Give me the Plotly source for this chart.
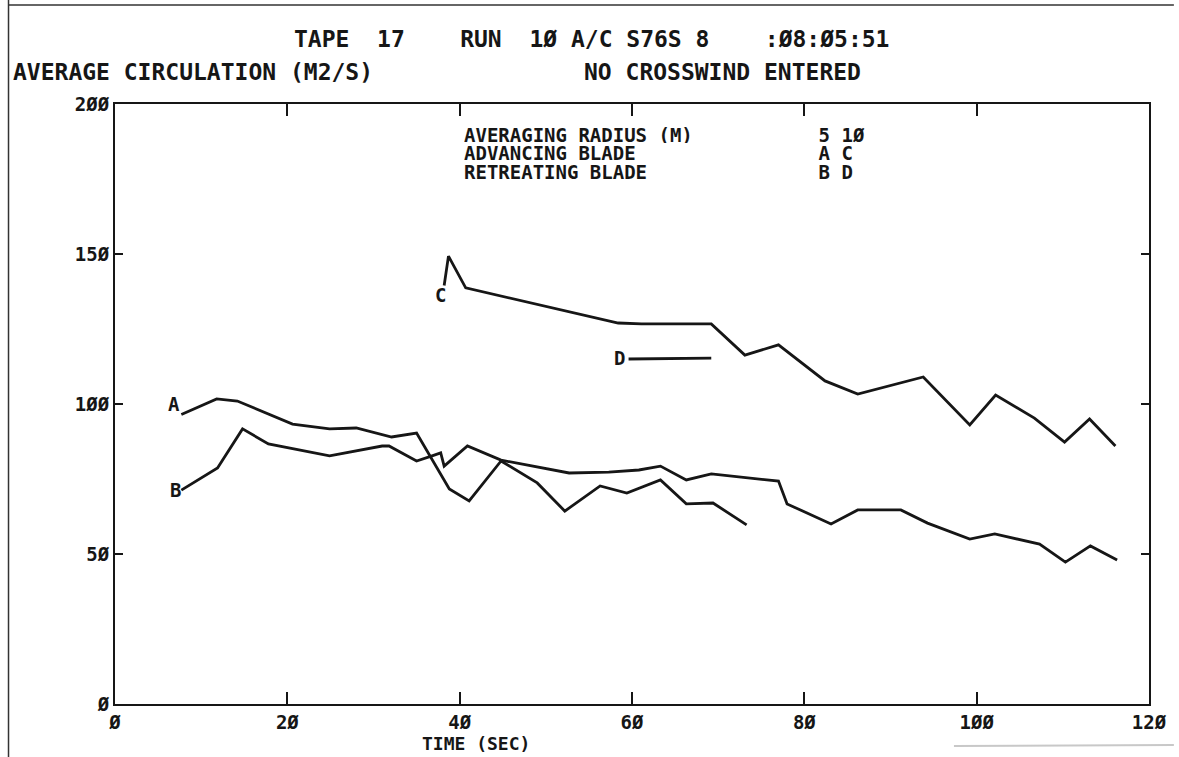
import plotly.graph_objects as go

# ---- data ----
A_x = [7.7, 11.8, 14.2, 20.6, 24.9, 28.0, 32.1, 35.0, 38.8, 41.1, 44.8, 49.0, 52.2, 56.3, 59.4, 63.3, 66.3, 69.4, 73.3]
A_y = [96.5, 101.7, 101.0, 93.3, 91.7, 92.0, 89.0, 90.3, 71.7, 67.7, 81.0, 73.7, 64.3, 72.7, 70.3, 74.7, 66.7, 67.0, 59.7]

B_x = [7.7, 11.9, 14.8, 17.8, 24.9, 31.0, 31.8, 35.0, 36.8, 37.8, 38.2, 40.9, 44.8, 52.7, 57.3, 60.8, 63.3,
       66.3, 69.2, 77.0, 78.0, 83.1, 86.2, 91.2, 94.3, 99.2, 102.1, 107.3, 110.3, 113.2, 116.3]
B_y = [71.3, 78.7, 91.7, 86.7, 82.7, 86.0, 86.0, 81.0, 82.7, 83.7, 79.3, 86.0, 81.3, 77.0, 77.3, 78.0, 79.3,
       74.7, 76.7, 74.3, 66.7, 60.0, 64.7, 64.7, 60.3, 55.0, 56.7, 53.3, 47.3, 52.7, 48.0]

C_x = [38.2, 38.7, 40.7, 58.4, 61.1, 69.2, 73.1, 77.0, 82.4, 86.2, 93.8, 99.2, 102.2, 106.7, 110.2, 113.1, 116.1]
C_y = [139.5, 149.3, 138.7, 127.0, 126.7, 126.7, 116.3, 119.7, 107.7, 103.3, 109.0, 93.0, 103.0, 95.3, 87.3, 95.0, 86.0]

D_x = [59.6, 69.2]
D_y = [115.0, 115.3]

curve_names = ["A", "B", "C", "D"]
label_x = [6.8, 7.0, 37.8, 58.6]
label_y = [100.0, 71.3, 136.3, 115.3]

x_ticks = [0, 20, 40, 60, 80, 100, 120]
x_ticktext = ["Ø", "2Ø", "4Ø", "6Ø", "8Ø", "1ØØ", "12Ø"]
y_ticks = [0, 50, 100, 150, 200]
y_ticktext = ["Ø", "5Ø", "1ØØ", "15Ø", "2ØØ"]

title_text = "TAPE  17    RUN  1Ø A/C S76S 8    :Ø8:Ø5:51"
y_title = "AVERAGE CIRCULATION (M2/S)"
note_text = "NO CROSSWIND ENTERED"
x_title = "TIME (SEC)"
legend_lines = [
    "AVERAGING RADIUS (M)           5 1Ø",
    "ADVANCING BLADE                A C",
    "RETREATING BLADE               B D",
]

# ---- layout geometry ----
W, H = 1179, 757
L, R, T, B = 115, 1154, 104, 704
INK = "#161616"
FONT = dict(family="DejaVu Sans Mono", size=19, color=INK, weight="bold")
HEAD = dict(family="DejaVu Sans Mono", size=23, color=INK, weight="bold")
XT = dict(family="DejaVu Sans Mono", size=18, color=INK, weight="bold")


def px(xp):
    return (xp - L) / (R - L)


def py(yp):
    return (B - yp) / (B - T)


def nb(s):
    return s.replace(" ", "\u00a0")


fig = go.Figure()
for xs, ys in [(A_x, A_y), (B_x, B_y), (C_x, C_y), (D_x, D_y)]:
    fig.add_trace(go.Scatter(x=xs, y=ys, mode="lines",
                             line=dict(color=INK, width=2.8),
                             showlegend=False, hoverinfo="skip"))

for n, lx, ly in zip(curve_names, label_x, label_y):
    fig.add_annotation(x=lx, y=ly, text=n, showarrow=False, font=FONT,
                       xanchor="center", yanchor="middle")

annos = [
    (594, 39, title_text, "center", HEAD),
    (10, 72, y_title, "left", HEAD),
    (584, 72, note_text, "left", HEAD),
    (478, 743, x_title, "center", XT),
]
for xp, yp, t, anc, f in annos:
    fig.add_annotation(xref="paper", yref="paper", x=px(xp), y=py(yp), text=nb(t),
                       showarrow=False, font=f, xanchor=anc, yanchor="middle")
for i, t in enumerate(legend_lines):
    fig.add_annotation(xref="paper", yref="paper", x=px(465), y=py(134 + 18.5 * i), text=nb(t),
                       showarrow=False, font=FONT, xanchor="left", yanchor="middle",
                       height=17, valign="middle", borderpad=0)

# outer sheet border and scan edge
fig.add_shape(type="line", xref="paper", yref="paper", x0=px(8), x1=px(8), y0=py(0), y1=py(757),
              line=dict(color="#333", width=1.5))
fig.add_shape(type="line", xref="paper", yref="paper", x0=px(8), x1=px(1179), y0=py(5), y1=py(5),
              line=dict(color="#333", width=1.5))
fig.add_shape(type="line", xref="paper", yref="paper", x0=px(958), x1=px(1179), y0=py(746), y1=py(745),
              line=dict(color="#c8c8c8", width=2))

fig.update_layout(
    width=W, height=H,
    margin=dict(l=L, r=W - R, t=T, b=H - B, pad=0),
    paper_bgcolor="white", plot_bgcolor="white",
    font=FONT,
    xaxis=dict(range=[0, 120], tickvals=x_ticks, ticktext=x_ticktext,
               showgrid=False, zeroline=False, showline=True, linecolor=INK, linewidth=2,
               mirror="ticks", ticks="inside", ticklen=12, tickwidth=1.5, tickcolor=INK,
               tickfont=FONT),
    yaxis=dict(range=[0, 200], tickvals=y_ticks, ticktext=y_ticktext,
               showgrid=False, zeroline=False, showline=True, linecolor=INK, linewidth=2,
               mirror="ticks", ticks="inside", ticklen=8, tickwidth=1.5, tickcolor=INK,
               tickfont=FONT),
)

fig.write_html("out.html", config={"displayModeBar": False},
               post_script="document.body.style.margin='0';document.body.style.overflow='hidden';")
